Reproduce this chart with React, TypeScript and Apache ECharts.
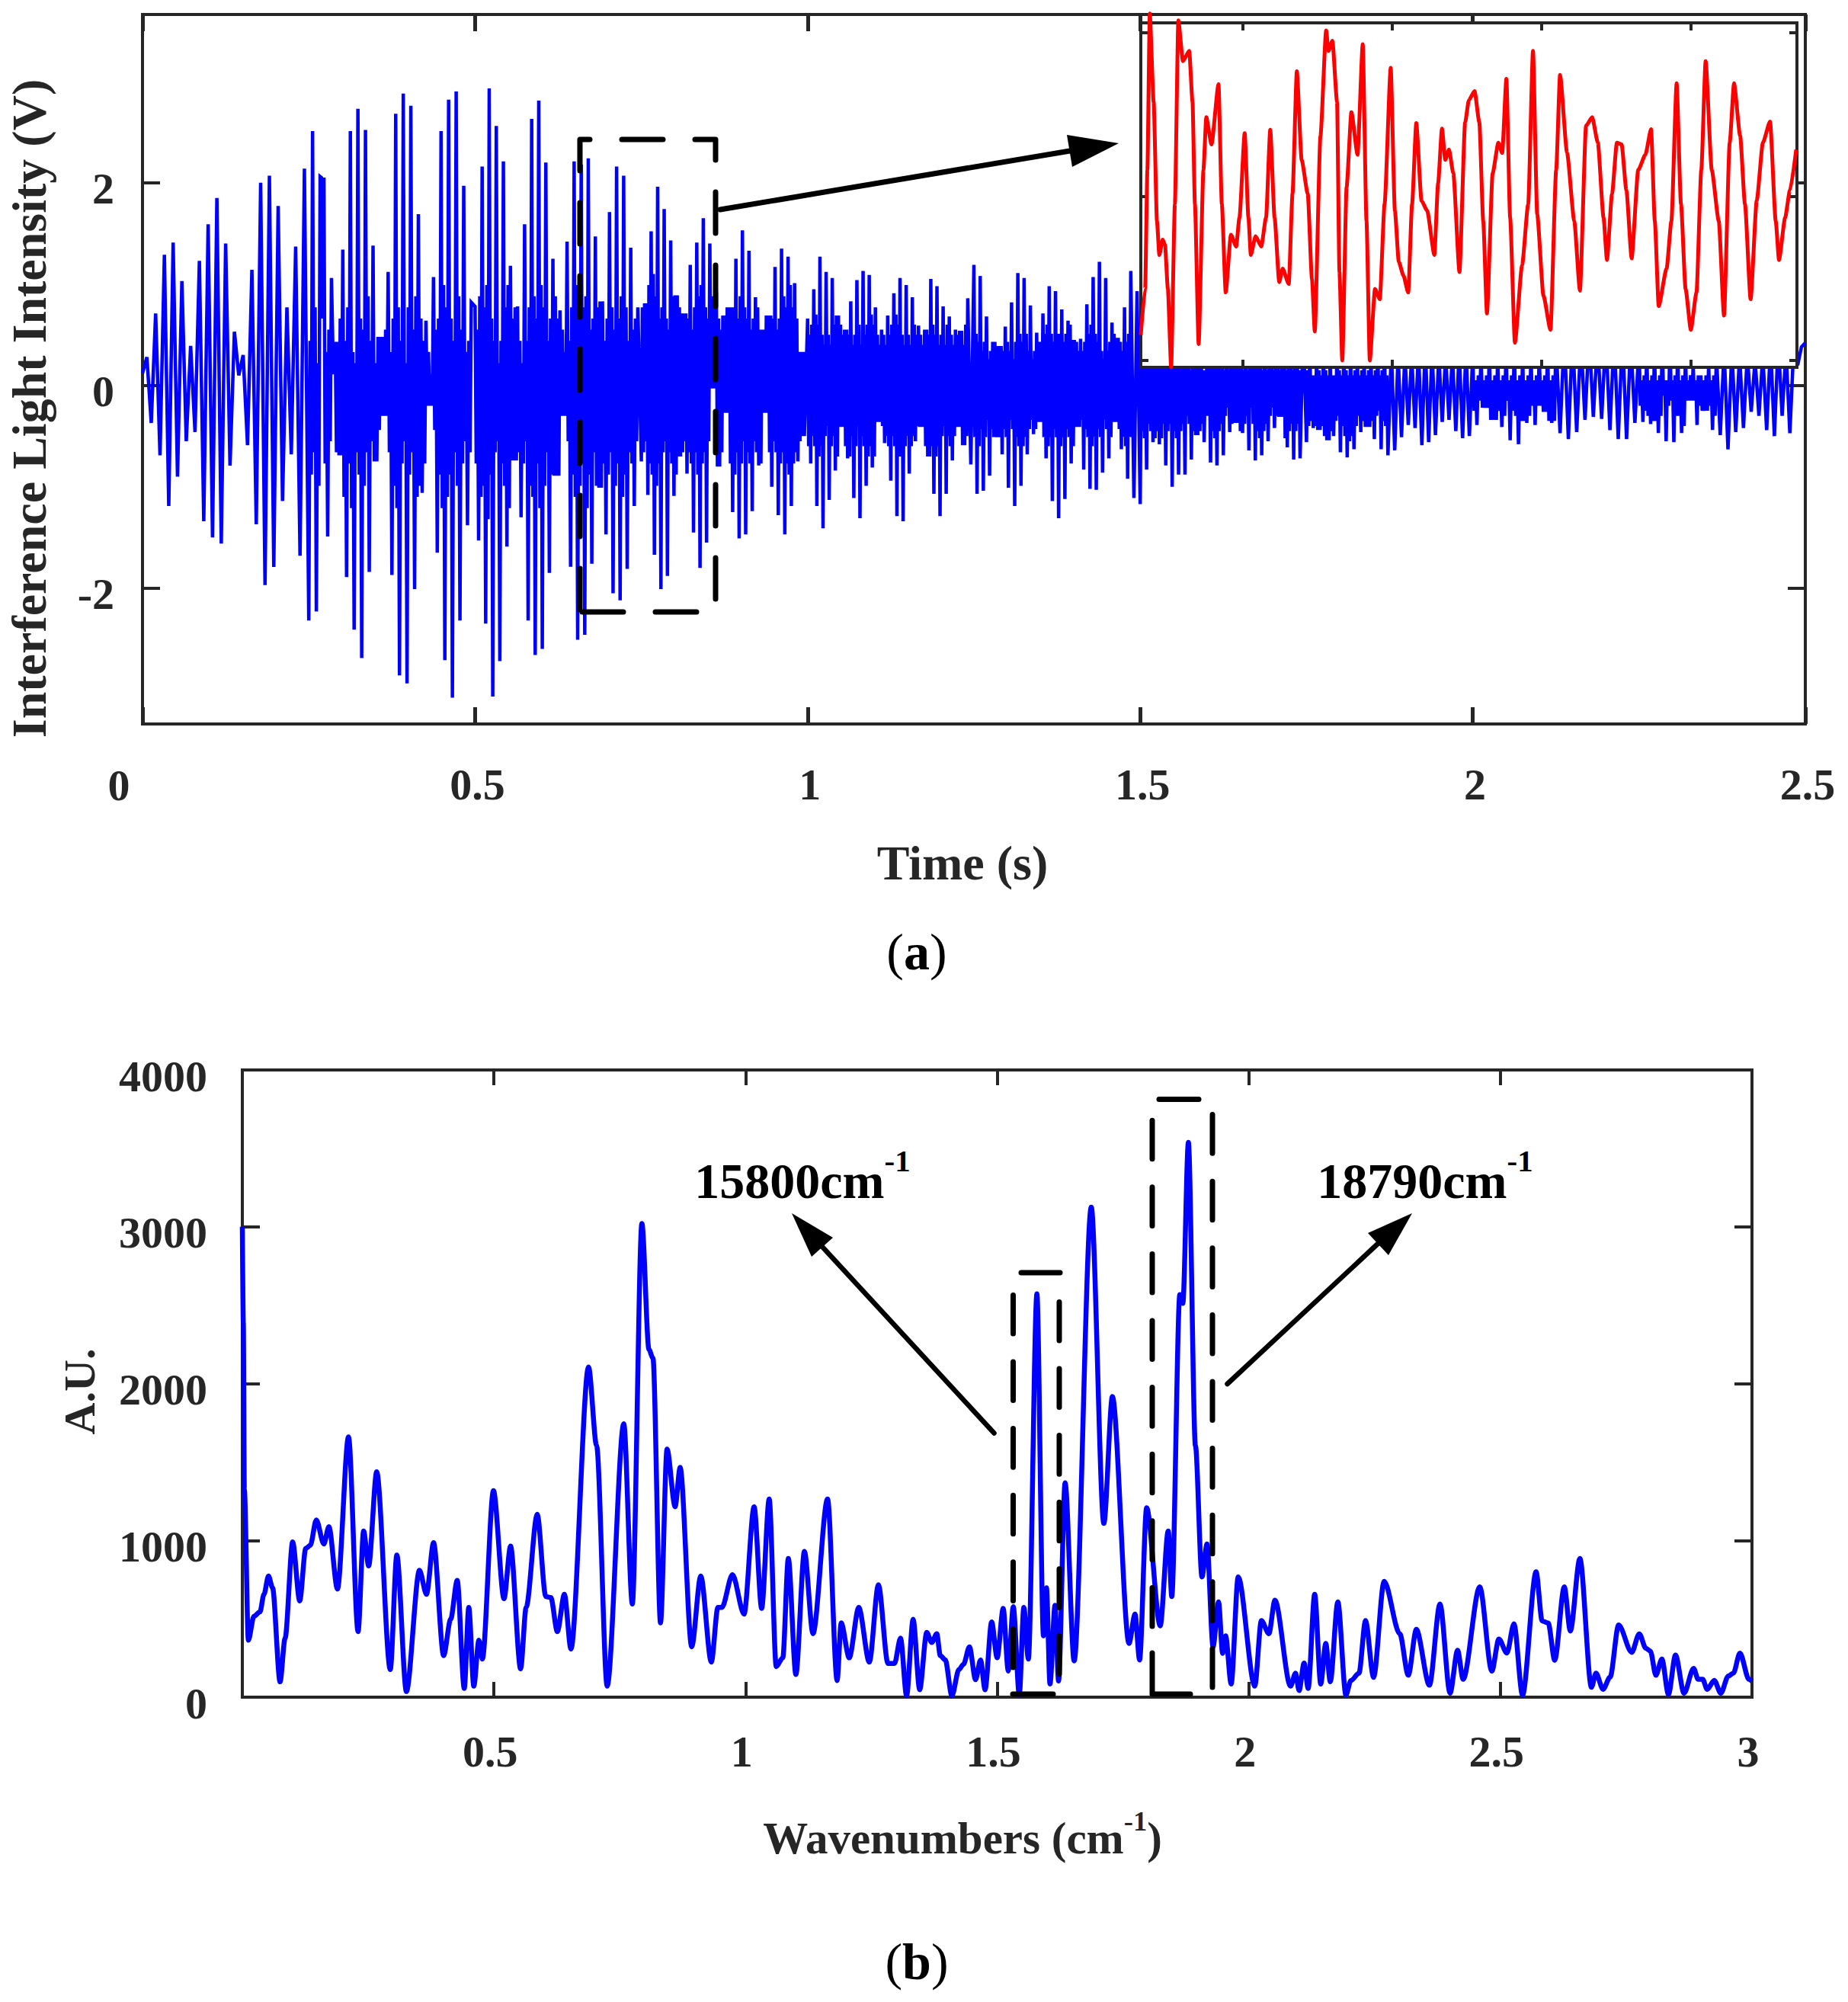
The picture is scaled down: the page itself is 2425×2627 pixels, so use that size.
import React, { useEffect, useRef } from "react";
import * as echarts from "echarts";

// (a) interference signal, one list per 0.25 s window
const windowSpan = 0.25;
const voltageW0 = [0.12, 0.28, -0.37, 0.71, -0.69, 1.29, -1.19, 1.41, -0.9, 1.03, -0.55, 0.39, -0.46, 1.23, -1.34, 1.59, -1.5, 1.85, -1.56, 1.4, -0.79, 0.53, 0.1, 0.3, -0.59, 1.14, -1.37, 2.0, -1.97, 2.07, -1.79, 1.77, -1.14, 0.77, -0.68, 1.37, -1.68, 2.14];
const voltageW1 = [-2.32, 2.51, -2.23, 2.06, 2.05, -1.49, 1.06, 0.43, -0.69, 1.34, -1.89, 2.51, -2.41, 2.73, -2.69, 2.52, -1.84, 1.38, -0.75, 0.48, -0.3, 1.12, -1.87, 2.68, -2.86, 2.88, -2.94, 2.76, -2.01, 1.69, -1.06, 0.64, -0.2, 1.07, -1.65, 2.51, -2.71, 2.82, -3.08, 2.9, -2.32, 1.97, -1.38, 0.82];
const voltageW2 = [0.78, -1.53, 2.16, -2.35, 2.93, -3.07, 2.56, -2.72, 2.21, -1.59, 1.18, -0.74, 0.78, -1.3, 1.59, -2.32, 2.63, -2.66, 2.81, -2.6, 2.2, -1.85, 1.25, -0.89, 0.74, -0.3, 1.42, -1.79, 2.21, -2.51, 2.18, -2.46, 2.24, -1.76, 1.47, -1.01, 0.83, -1.47, 1.71, -2.05, 2.16, -2.12, 2.07, -1.81, 1.36, -1.19, 0.77];
const voltageW3 = [-0.75, 0.81, -1.08, 1.52, -1.67, 1.96, -2.01, 1.74, -1.88, 1.43, -1.09, 0.89, -0.7, 0.71, -0.87, 1.19, -1.45, 1.41, -1.8, 1.65, -1.55, 1.4, -0.03, 0.93, -0.8, 0.69, -0.27, 0.77, -1.25, 1.25, -1.51, 1.53, -1.47, 1.33, -1.24, 0.87, -0.79, 0.55, -0.27, 0.69, -1, 1.17, -1.28, 1.35, -1.47, 1.27, -1.19, 1.01, -0.75, 0.33, -0.5];
const voltageW4 = [0.66, -0.77, 0.95, -1.19, 1.27, -1.41, 1.12, -1.13, 1.06, -0.84, 0.69, -0.41, 0.55, -0.72, 0.83, -1.11, 1.04, -1.31, 1.13, -0.99, 1.09, -0.81, 0.77, -0.36, 0.55, -0.57, 0.69, -0.94, 0.91, -1.29, 1.06, -1.34, 0.99, -0.87, 0.87, -0.55, 0.59, -0.41, 0.55, -0.7, 1.05, -1.07, 0.98, -1.29, 0.78, -1.07, 0.68, -0.74, 0.55, -0.41, 0.54, -0.59, 0.86, -0.78];
const voltageW5 = [1.19, -1.07, 1.08, -1.04, 0.68, -0.89, 0.43, -0.51, 0.39, -0.68, 0.58, -1.01, 0.82, -1.19, 1.11, -0.99, 1.06, -0.68, 0.79, -0.48, 0.52, -0.36, 0.71, -0.72, 0.98, -1.14, 0.93, -1.31, 0.75, -1.12, 0.64, -0.77, 0.45, -0.41, 0.46, -0.83, 0.8, -1.02, 1.07, -1.03, 1.22, -0.86, 1.06, -0.72, 0.62, -0.36, 0.47, -0.63, 0.77, -0.92, 1.13, -1.11, 0.93];
const voltageW6 = [-1.17, 0.9, -0.83, 0.8, -0.56, 0.7, -0.58, 0.85, -0.79, 0.9, -1, 0.95, -0.88, 0.8, -0.88, 0.7, -0.73, 0.65, -0.49, 0.6, -0.56, 0.75, -0.76, 0.9, -0.79, 0.8, -0.69, 0.7, -0.46, 0.6, -0.37, 0.6, -0.47, 0.7, -0.64, 0.8, -0.74, 0.85, -0.69, 0.7, -0.55, 0.6, -0.42, 0.6, -0.31, 0.7, -0.61, 0.8, -0.73, 0.7, -0.72, 0.6];
const voltageW7 = [-0.56, 0.4, -0.42, 0.35, -0.44, 0.4, -0.54, 0.35, -0.5, 0.45, -0.66, 0.4, -0.71, 0.4, -0.63, 0.3, -0.46, 0.3, -0.41, 0.35, -0.53, 0.4, -0.63, 0.4, -0.69, 0.35, -0.64, 0.3, -0.51, 0.3, -0.39, 0.3, -0.42, 0.35, -0.59, 0.4, -0.56, 0.35, -0.49, 0.3, -0.36, 0.3, -0.34, 0.3, -0.45, 0.35, -0.52, 0.35, -0.5];
const voltageW8 = [0.3, -0.39, 0.3, -0.22, 0.35, -0.34, 0.3, -0.41, 0.35, -0.54, 0.4, -0.58, 0.3, -0.37, 0.3, -0.39, 0.3, -0.26, 0.4, -0.37, 0.45, -0.47, 0.5, -0.53, 0.5, -0.46, 0.45, -0.34, 0.5, -0.31, 0.45, -0.33, 0.5, -0.44, 0.5, -0.53, 0.5, -0.53, 0.45, -0.37];
const voltageW9 = [0.4, -0.36, 0.35, -0.38, 0.4, -0.47, 0.45, -0.55, 0.45, -0.56, 0.4, -0.47, 0.3, -0.15, 0.2, -0.39, 0.1, -0.25, 0.2, -0.44, 0.3, -0.49, 0.35, -0.63, 0.35, -0.46, 0.3, -0.42, 0.3, -0.26, 0.25, -0.3, 0.3, -0.44, 0.4, -0.5, 0.45, -0.3, 0.35, -0.47, 0.38, 0.2, 0.38];
const lastVoltage = 0.42;

// smaller spikes inside each swing (low, high pairs), estimated from the dense part of the trace
const rippleW1 = [-0.88, 0.44, -0.66, 0.77, -0.99, 0.22, -0.44, 0.66, -0.77, 0.33, -0.55, 0.55, -0.88, 0.11, -0.66, 0.44, -0.99, 0.66, -1.1, 0.44, -0.77, 0.77, -1.21, 0.33, -0.66, 0.22, -0.88, 0.66, -0.99, 0.55, -0.66, 0.88, -0.55, 0.44, -0.77, 0.22, -0.44, 0.66, -0.88, 0.77, -1.1, 0.55, -0.66, 0.33, -0.99, 0.66, -1.21, 0.77, -0.77, 0.44, -0.55, 0.22, -0.88, 0.77, -0.66, 0.55, -1.1, 0.88, -0.99, 0.66, -0.77, 0.44, -0.55, 0.33, -0.66, 0.11, -0.44, 0.55, -0.88, 0.66, -1.21, 0.99, -1.1, 0.77, -0.88, 0.66, -0.66, 0.44, -0.99, 0.88, -0.77, 0.55, -0.55, 0.33, -0.66, 0.44];
const rippleW2 = [-0.77, 0.55, -1.1, 0.88, -0.99, 0.77, -1.32, 0.99, -0.88, 0.66, -0.66, 0.44, -0.55, 0.22, -0.77, 0.44, -0.99, 0.77, -1.21, 0.99, -1.1, 0.66, -0.88, 0.77, -0.66, 0.44, -0.77, 0.22, -0.55, 0.44, -0.99, 0.77, -1.1, 0.88, -0.77, 0.66, -1.21, 0.99, -0.99, 0.77, -0.66, 0.44, -0.88, 0.66, -1.1, 0.88, -0.99, 0.66, -0.66, 0.55, -0.77, 0.33, -0.55, 0.44, -0.88, 0.77, -1.1, 0.99, -0.99, 0.66, -0.77, 0.77, -1.21, 0.88, -0.88, 0.55, -0.66, 0.66, -0.99, 0.77, -1.1, 0.88, -0.77, 0.44, -0.88, 0.66, -0.66, 0.77, -0.99, 0.55, -0.77, 0.66, -1.1, 0.88, -0.88, 0.77, -0.66, 0.44, -0.77, 0.55, -0.55, 0.66];
const rippleW3 = [-0.66, 0.77, -0.55, 0.88, -0.77, 0.99, -0.88, 1.1, -0.99, 0.88, -0.77, 0.66, -0.66, 0.77, -0.55, 0.66, -0.66, 0.55, -0.77, 0.88, -0.88, 0.99, -0.77, 0.77, -0.66, 0.88, -0.55, 0.77, -0.66, 0.66, -0.77, 0.55, -0.66, 0.77, -0.88, 0.88, -0.77, 0.99, -0.66, 0.77, -0.55, 0.66, -0.66, 0.88, -0.77, 0.77, -0.88, 0.66, -0.66, 0.55, -0.55, 0.77, -0.66, 0.88, -0.77, 0.99, -0.88, 0.77, -0.66, 0.66, -0.77, 0.88, -0.55, 0.77, -0.66, 0.66, -0.77, 0.55, -0.55, 0.66, -0.66, 0.77, -0.77, 0.88, -0.88, 0.99, -0.77, 0.88, -0.66, 0.77, -0.55, 0.66, -0.66, 0.55, -0.77, 0.66, -0.66, 0.88, -0.77, 0.77, -0.88, 0.99, -0.77, 0.77, -0.66, 0.66, -0.55, 0.77, -0.66, 0.55];
const rippleW4 = [-0.6, 0.5, -0.5, 0.6, -0.6, 0.7, -0.7, 0.6, -0.6, 0.5, -0.5, 0.4, -0.4, 0.5, -0.6, 0.4, -0.5, 0.6, -0.7, 0.7, -0.6, 0.6, -0.5, 0.5, -0.6, 0.6, -0.7, 0.5, -0.5, 0.4, -0.6, 0.5, -0.4, 0.6, -0.5, 0.4, -0.6, 0.5, -0.7, 0.6, -0.6, 0.7, -0.7, 0.6, -0.6, 0.5, -0.5, 0.4, -0.4, 0.5, -0.5, 0.4, -0.6, 0.5, -0.5, 0.6, -0.6, 0.7, -0.7, 0.6, -0.7, 0.5, -0.6, 0.4, -0.5, 0.5, -0.6, 0.4, -0.5, 0.6, -0.4, 0.5, -0.6, 0.5, -0.5, 0.4, -0.6, 0.6, -0.7, 0.5, -0.6, 0.6, -0.7, 0.5, -0.6, 0.4, -0.5, 0.5, -0.4, 0.4, -0.5, 0.6, -0.6, 0.5, -0.5, 0.4, -0.6, 0.5, -0.5, 0.6, -0.6, 0.4, -0.5, 0.6];
const rippleW5 = [-0.51, 0.51, -0.6, 0.43, -0.43, 0.34, -0.51, 0.43, -0.34, 0.26, -0.43, 0.34, -0.51, 0.43, -0.6, 0.51, -0.51, 0.51, -0.43, 0.34, -0.51, 0.43, -0.34, 0.34, -0.43, 0.26, -0.51, 0.43, -0.6, 0.51, -0.6, 0.43, -0.51, 0.51, -0.43, 0.34, -0.34, 0.26, -0.43, 0.34, -0.51, 0.43, -0.6, 0.43, -0.51, 0.51, -0.6, 0.6, -0.51, 0.51, -0.43, 0.43, -0.51, 0.51, -0.6, 0.51, -0.51, 0.43, -0.43, 0.51, -0.51, 0.6, -0.6, 0.51, -0.51, 0.43, -0.43, 0.34, -0.34, 0.34, -0.43, 0.43, -0.51, 0.51, -0.6, 0.6, -0.51, 0.51, -0.43, 0.43, -0.51, 0.34, -0.34, 0.26, -0.43, 0.34, -0.51, 0.43, -0.6, 0.51, -0.51, 0.51, -0.43, 0.43, -0.51, 0.34, -0.6, 0.43, -0.51, 0.51];
const rippleW6 = [-0.45, 0.3, -0.52, 0.22, -0.38, 0.3, -0.45, 0.22, -0.52, 0.3, -0.45, 0.38, -0.52, 0.3, -0.38, 0.22, -0.45, 0.3, -0.38, 0.22, -0.45, 0.3, -0.52, 0.38, -0.45, 0.3, -0.38, 0.22, -0.3, 0.22, -0.38, 0.15, -0.45, 0.3, -0.52, 0.3, -0.45, 0.22, -0.38, 0.15, -0.3, 0.15, -0.3, 0.22, -0.45, 0.3, -0.52, 0.3, -0.45, 0.22, -0.38, 0.22, -0.3, 0.15, -0.22, 0.15, -0.38, 0.22, -0.45, 0.3, -0.52, 0.22, -0.45, 0.22, -0.38, 0.15, -0.3, 0.15, -0.22, 0.22, -0.38, 0.3, -0.45, 0.22, -0.52, 0.22, -0.45, 0.15, -0.38, 0.15, -0.3, 0.22, -0.22, 0.15, -0.3, 0.22, -0.45, 0.15, -0.38, 0.22, -0.52, 0.15, -0.45, 0.22, -0.38, 0.15, -0.45, 0.22, -0.38, 0.15];
const rippleW7 = [-0.4, 0.15, -0.35, 0.1, -0.4, 0.1, -0.45, 0.15, -0.4, 0.1, -0.5, 0.15, -0.55, 0.1, -0.45, 0.1, -0.35, 0.1, -0.3, 0.15, -0.4, 0.1, -0.5, 0.15, -0.55, 0.1, -0.5, 0.1, -0.4, 0.15, -0.3, 0.1, -0.35, 0.15, -0.45, 0.1, -0.45, 0.15, -0.35, 0.1, -0.3, 0.15, -0.25, 0.1, -0.35, 0.15, -0.4, 0.1];
const rippleW8 = [-0.25, 0.05, -0.15, 0.1, -0.25, 0.05, -0.3, 0.1, -0.35, 0.05, -0.4, 0.1, -0.25, 0.05, -0.3, 0.1, -0.15, 0.05, -0.25, 0.1, -0.3, 0.05, -0.35, 0.1, -0.35, 0.05, -0.3, 0.1, -0.2, 0.05, -0.2, 0.1, -0.2, 0.05, -0.3, 0.1, -0.35, 0.05, -0.35, 0.1];
const rippleW9 = [-0.2, 0.05, -0.25, 0.1, -0.3, 0.05, -0.35, 0.1, -0.35, 0.05, -0.3, 0.1, -0.1, 0.05, -0.2, 0.05, -0.15, 0.05, -0.3, 0.1, -0.3, 0.05, -0.4, 0.1, -0.3, 0.05, -0.25, 0.1, -0.15, 0.05, -0.2, 0.1, -0.3, 0.05, -0.3, 0.1, -0.2, 0.05, -0.3, 0.1];

// (a) inset, red trace
const insetTime = [0, 0.029, 0.044, 0.06, 0.086, 0.108, 0.124, 0.146, 0.162, 0.181, 0.203, 0.228, 0.251, 0.282, 0.324, 0.346, 0.362, 0.387, 0.419, 0.438, 0.473, 0.52, 0.542, 0.568, 0.603, 0.638, 0.66, 0.695, 0.72, 0.736, 0.768, 0.806, 0.838, 0.866, 0.895, 0.926, 0.949, 0.99, 1.015, 1.044, 1.076, 1.117, 1.145, 1.164, 1.202, 1.24, 1.256, 1.282, 1.313, 1.329, 1.348, 1.377, 1.409, 1.45, 1.485, 1.51, 1.532, 1.567, 1.599, 1.631, 1.672, 1.7, 1.726, 1.757, 1.789, 1.815, 1.843, 1.878, 1.916, 1.964, 1.989, 2.015, 2.037, 2.062, 2.091, 2.132, 2.17, 2.195, 2.233, 2.265, 2.291, 2.316, 2.354, 2.392, 2.418, 2.446, 2.471, 2.503, 2.551, 2.592, 2.624, 2.652, 2.694, 2.741, 2.779, 2.805, 2.852, 2.9, 2.938, 2.979, 3.02, 3.058, 3.096, 3.119, 3.153, 3.185, 3.217, 3.249, 3.284, 3.328, 3.376, 3.414, 3.439, 3.465, 3.518, 3.55, 3.585, 3.614, 3.645, 3.68, 3.718, 3.75, 3.779, 3.82, 3.867, 3.902, 3.94, 3.969, 4.01, 4.042, 4.08, 4.121, 4.162, 4.21, 4.248, 4.27, 4.311, 4.343, 4.385];
const insetVoltage = [-0.847, -0.567, 0.16, 1.115, 0.575, -0.152, -0.359, -0.266, -0.297, -0.567, -1.044, -0.048, 1.073, 0.824, 0.887, 0.575, -0.048, -0.903, 0.16, 0.482, 0.316, 0.683, -0.048, -0.588, -0.235, -0.307, -0.131, 0.384, -0.131, -0.359, -0.245, -0.307, -0.131, 0.405, -0.131, -0.525, -0.442, -0.536, 0.015, 0.762, 0.222, 0.015, -0.505, -0.826, 0.368, 1.011, 0.887, 0.949, 0.575, -0.463, -1.003, 0.056, 0.513, 0.253, 0.928, -0.152, -1.003, -0.567, -0.629, -0.048, 0.783, -0.089, -0.401, -0.484, -0.588, -0.048, 0.446, -0.027, -0.089, -0.359, 0.077, 0.413, 0.222, 0.284, 0.139, -0.463, 0.451, 0.586, 0.642, 0.451, -0.152, -0.716, 0.139, 0.326, 0.264, 0.716, -0.131, -0.895, -0.422, -0.048, 0.887, -0.11, -0.608, -0.816, 0.16, 0.741, 0.264, -0.152, -0.577, 0.43, 0.482, 0.326, -0.131, -0.39, 0.015, 0.326, 0.316, 0.035, -0.38, 0.16, 0.253, 0.409, -0.152, -0.671, -0.442, -0.152, 0.689, -0.048, -0.567, -0.816, -0.588, 0.16, 0.824, 0.16, -0.152, -0.729, 0.326, 0.689, 0.368, -0.048, -0.629, -0.027, 0.326, 0.455, -0.152, -0.39, -0.131, 0.035, 0.284];

// (b) spectrum
const wavenumber = [0, 0.002, 0.004, 0.012, 0.023, 0.035, 0.043, 0.052, 0.06, 0.075, 0.085, 0.1, 0.114, 0.126, 0.135, 0.147, 0.162, 0.172, 0.189, 0.211, 0.23, 0.241, 0.251, 0.267, 0.294, 0.307, 0.326, 0.352, 0.366, 0.38, 0.4, 0.414, 0.427, 0.441, 0.45, 0.46, 0.47, 0.477, 0.499, 0.52, 0.533, 0.553, 0.564, 0.586, 0.603, 0.613, 0.626, 0.64, 0.653, 0.688, 0.704, 0.725, 0.758, 0.775, 0.794, 0.808, 0.816, 0.831, 0.844, 0.86, 0.87, 0.893, 0.911, 0.932, 0.945, 0.953, 0.974, 0.997, 1.017, 1.032, 1.047, 1.061, 1.074, 1.085, 1.1, 1.117, 1.134, 1.163, 1.182, 1.19, 1.206, 1.225, 1.246, 1.264, 1.283, 1.296, 1.308, 1.32, 1.333, 1.346, 1.36, 1.37, 1.38, 1.387, 1.397, 1.41, 1.424, 1.433, 1.445, 1.457, 1.467, 1.476, 1.489, 1.5, 1.512, 1.522, 1.532, 1.544, 1.553, 1.562, 1.579, 1.592, 1.598, 1.605, 1.615, 1.622, 1.635, 1.653, 1.687, 1.712, 1.729, 1.762, 1.774, 1.783, 1.797, 1.824, 1.84, 1.847, 1.863, 1.869, 1.88, 1.894, 1.907, 1.917, 1.929, 1.94, 1.948, 1.954, 1.965, 1.979, 2.012, 2.025, 2.04, 2.052, 2.083, 2.093, 2.1, 2.11, 2.118, 2.131, 2.143, 2.153, 2.162, 2.177, 2.193, 2.203, 2.219, 2.232, 2.248, 2.269, 2.3, 2.317, 2.333, 2.359, 2.38, 2.4, 2.415, 2.426, 2.459, 2.483, 2.497, 2.513, 2.527, 2.544, 2.571, 2.583, 2.595, 2.608, 2.627, 2.639, 2.658, 2.681, 2.69, 2.704, 2.718, 2.735, 2.761, 2.776, 2.789, 2.798, 2.809, 2.821, 2.834, 2.848, 2.865, 2.884, 2.893, 2.902, 2.911, 2.925, 2.938, 2.953, 2.963, 2.976, 2.994, 3];
const amplitude = [3000, 2385, 1325, 363, 516, 544, 656, 773, 698, 98, 377, 990, 614, 949, 968, 1130, 977, 1088, 689, 1660, 418, 1060, 837, 1437, 176, 907, 36, 809, 656, 985, 265, 497, 745, 56, 572, 70, 363, 243, 1317, 628, 963, 181, 572, 1166, 642, 636, 418, 656, 307, 2106, 1604, 70, 1744, 594, 3021, 2218, 2162, 474, 1582, 1214, 1465, 321, 773, 223, 572, 572, 781, 530, 1214, 566, 1264, 195, 251, 884, 145, 929, 405, 1264, 106, 474, 251, 572, 223, 717, 215, 215, 377, 8, 497, 47, 413, 349, 405, 265, 237, 8, 176, 209, 321, 112, 237, 47, 480, 251, 566, 167, 577, 14, 572, 243, 2572, 391, 698, 84, 586, 103, 1367, 231, 3125, 1108, 1917, 343, 530, 237, 1208, 455, 1060, 642, 2567, 2511, 3538, 1604, 767, 977, 321, 608, 279, 391, 84, 767, 70, 488, 405, 619, 70, 153, 42, 218, 56, 656, 84, 343, 98, 608, 14, 106, 153, 488, 126, 739, 405, 140, 432, 76, 594, 25, 299, 114, 704, 166, 371, 281, 468, 12, 799, 486, 473, 235, 704, 422, 884, 63, 153, 50, 127, 460, 286, 404, 312, 294, 140, 243, 17, 268, 25, 184, 114, 114, 50, 107, 25, 135, 153, 281, 114, 102];

// tick labels
const timeTicks = [0, 0.5, 1, 1.5, 2, 2.5];
const timeLabels = [0.5, 1, 1.5, 2, 2.5];
const voltTicks = [-2, 0, 2];
const waveTicks = [0, 0.5, 1, 1.5, 2, 2.5, 3];
const waveLabels = [0.5, 1, 1.5, 2, 2.5, 3];
const ampTicks = [0, 1000, 2000, 3000, 4000];
const insetTimeTicks = [0.68, 1.68, 2.68, 3.68];
const insetVoltTicks = [-1, 0, 1];

const FONT = "Liberation Serif";
const INK = "#262626";
const BLACK = "#000";

const zip = (xs: number[], ys: number[]) => xs.map((x, i) => [x, ys[i]]);

const App: React.FC = () => {
  const chartRef = useRef<HTMLDivElement>(null);

  useEffect(() => {
    if (!chartRef.current) return;
    const chart = echarts.init(chartRef.current, undefined, { renderer: "svg" });

    const windows = [voltageW0, voltageW1, voltageW2, voltageW3, voltageW4, voltageW5, voltageW6, voltageW7, voltageW8, voltageW9];
    const ripples = [[], rippleW1, rippleW2, rippleW3, rippleW4, rippleW5, rippleW6, rippleW7, rippleW8, rippleW9];

    // main peaks stay on their own time slots, the small spikes sit between them
    const signal: number[][] = [];
    windows.forEach((w, k) => {
      const band: number[] = ripples[k];
      w.forEach((v, i) => {
        const t = (f: number) => (k + (i + f) / w.length) * windowSpan;
        signal.push([t(0), v]);
        if (2 * i + 1 < band.length && i + 1 < w.length) {
          const next = w[i + 1];
          const low = Math.max(band[2 * i], Math.min(v, next));
          const high = Math.min(band[2 * i + 1], Math.max(v, next));
          signal.push([t(1 / 3), next < v ? low : high]);
          signal.push([t(2 / 3), next < v ? high : low]);
        }
      });
    });
    signal.push([2.5, lastVoltage]);

    const axisText = {
      fontFamily: FONT,
      fontWeight: "bold" as const,
      fontSize: 58,
      color: INK,
      formatter: (v: number) => String(v),
    };

    const xAxisFor = (
      gridIndex: number,
      min: number,
      max: number,
      ticks: number[],
      labels: number[],
      position: string,
      len: number,
      width: number,
      margin: number,
      labelPadding: number[] = [0, 0, 0, 0],
      z = 1
    ) => ({
      type: "value",
      gridIndex,
      min,
      max,
      position,
      z,
      splitLine: { show: false },
      axisLine: { show: false, onZero: false },
      axisTick: {
        show: true,
        inside: true,
        length: len,
        customValues: ticks,
        lineStyle: { color: INK, width },
      },
      axisLabel: labels.length
        ? { show: true, margin, customValues: labels, padding: labelPadding, ...axisText }
        : { show: false },
    });

    const yAxisFor = (
      gridIndex: number,
      min: number,
      max: number,
      ticks: number[],
      labels: number[],
      position: string,
      len: number,
      width: number,
      margin: number,
      z = 1
    ) => ({
      type: "value",
      gridIndex,
      min,
      max,
      position,
      z,
      splitLine: { show: false },
      axisLine: { show: false, onZero: false },
      axisTick: {
        show: true,
        inside: true,
        length: len,
        customValues: ticks,
        lineStyle: { color: INK, width },
      },
      axisLabel: labels.length
        ? {
            show: true,
            margin,
            customValues: labels,
            verticalAlign: "top",
            lineHeight: 16,
            ...axisText,
          }
        : { show: false },
    });

    const title = (text: string, x: number, y: number, size: number, rotation = 0, fill = INK) => ({
      type: "text",
      x,
      y,
      rotation,
      z: 20,
      style: {
        text,
        fontFamily: FONT,
        fontWeight: "bold",
        fontSize: size,
        fill,
        align: "center",
        verticalAlign: "middle",
      },
    });

    // label with a superscript, as used on the spectrum
    const supLabel = (text: string, sup: string, tail: string, x: number, y: number, size: number, fill: string) => ({
      type: "text",
      x,
      y,
      z: 20,
      style: {
        text: `{m|${text}}{s|${sup}}{m|${tail}}`,
        fill,
        align: "center",
        verticalAlign: "middle",
        rich: {
          m: { fontFamily: FONT, fontWeight: "bold", fontSize: size, fill, lineHeight: size * 1.4 },
          s: {
            fontFamily: FONT,
            fontWeight: "bold",
            fontSize: size * 0.62,
            fill,
            lineHeight: size * 1.4,
            verticalAlign: "top",
            padding: [0, 0, size * 0.42, 0],
          },
        },
      },
    });

    // (a) / (b): plain parens round a bold letter
    const panelTag = (letter: string, x: number, y: number) => ({
      type: "text",
      x,
      y,
      z: 20,
      style: {
        text: `{p|(}{b|${letter}}{p|)}`,
        align: "center",
        verticalAlign: "middle",
        rich: {
          p: { fontFamily: FONT, fontSize: 68, fill: BLACK },
          b: { fontFamily: FONT, fontSize: 68, fontWeight: "bold", fill: BLACK },
        },
      },
    });

    const dash = (points: number[][], pattern: number[]) => ({
      type: "polyline",
      z: 15,
      shape: { points },
      style: { stroke: BLACK, fill: "none", lineWidth: 7, lineCap: "round", lineJoin: "round", lineDash: pattern },
    });

    const solid = (points: number[][], lineWidth = 7) => ({
      type: "polyline",
      z: 15,
      shape: { points },
      style: { stroke: BLACK, fill: "none", lineWidth, lineCap: "round", lineJoin: "round" },
    });

    const head = (points: number[][]) => ({
      type: "polygon",
      z: 15,
      shape: { points },
      style: { fill: BLACK },
    });

    const frame = { show: true, borderColor: INK, borderWidth: 4, backgroundColor: "transparent" };
    const dashA = [54, 42];
    const dashB = [50.6, 37];

    const option: any = {
      animation: false,
      backgroundColor: "#fff",
      grid: [
        { left: 187, top: 19, width: 2182, height: 931, ...frame },
        { left: 318, top: 1404, width: 1981, height: 823, ...frame },
        { left: 1497, top: 30, width: 861, height: 452, ...frame, backgroundColor: "#fff", z: 10 },
      ],
      xAxis: [
        xAxisFor(0, 0, 2.5, timeTicks, timeLabels, "bottom", 22, 5, 50, [0, 0, 0, 6]),
        xAxisFor(0, 0, 2.5, timeTicks, [], "top", 22, 5, 0),
        xAxisFor(1, 0, 3, waveTicks, waveLabels, "bottom", 20, 4, 42, [0, 10, 0, 0]),
        xAxisFor(1, 0, 3, waveTicks, [], "top", 20, 4, 0),
        xAxisFor(2, 0, 4.39, insetTimeTicks, [], "bottom", 10, 4, 0, undefined, 11),
        xAxisFor(2, 0, 4.39, insetTimeTicks, [], "top", 10, 4, 0, undefined, 11),
      ],
      yAxis: [
        yAxisFor(0, -3.34, 3.66, voltTicks, voltTicks, "left", 23, 4, 37),
        yAxisFor(0, -3.34, 3.66, voltTicks, [], "right", 23, 4, 0),
        yAxisFor(1, 0, 4000, ampTicks, ampTicks, "left", 23, 4, 46),
        yAxisFor(1, 0, 4000, ampTicks, [], "right", 23, 4, 0),
        yAxisFor(2, -1.045, 1.058, insetVoltTicks, [], "left", 10, 4, 0, 11),
        yAxisFor(2, -1.045, 1.058, insetVoltTicks, [], "right", 10, 4, 0, 11),
      ],
      series: [
        {
          type: "line",
          name: "Interference signal",
          xAxisIndex: 0,
          yAxisIndex: 0,
          data: signal,
          showSymbol: false,
          lineStyle: { color: "#0000ff", width: 4.5, join: "miter" },
          z: 2,
        },
        {
          type: "line",
          name: "Spectrum",
          xAxisIndex: 2,
          yAxisIndex: 2,
          data: zip(wavenumber, amplitude),
          showSymbol: false,
          clip: false,
          smooth: 0.3,
          smoothMonotone: "x",
          lineStyle: { color: "#0000ff", width: 6.5 },
          z: 2,
        },
        {
          type: "line",
          name: "Inset",
          xAxisIndex: 4,
          yAxisIndex: 4,
          data: zip(insetTime, insetVoltage),
          showSymbol: false,
          clip: false,
          smooth: 0.2,
          smoothMonotone: "x",
          lineStyle: { color: "#ff0000", width: 5 },
          z: 12,
        },
      ],
      graphic: [
        title("Interference Light Intensity (V)", 38, 536, 64, Math.PI / 2),
        title("0", 156, 1030, 58),
        title("Time (s)", 1263, 1132, 64),
        panelTag("a", 1203, 1249),
        title("A.U.", 104, 1826, 58, Math.PI / 2),
        supLabel("Wavenumbers (cm", "-1", ")", 1263, 2412, 59, INK),
        panelTag("b", 1203, 2574),
        supLabel("15800cm", "-1", "", 1053, 1549, 66, BLACK),
        supLabel("18790cm", "-1", "", 1870, 1549, 66, BLACK),

        // (a) dashed window and arrow into the inset
        dash([[816, 183], [939, 183], [939, 803], [761, 803]], dashA),
        dash([[761, 800], [761, 183], [775, 183]], dashA),
        solid([[945, 275], [1404, 198]], 7),
        head([[1468, 188], [1400, 177], [1407, 219]]),

        // (b) dashed windows round the two peaks
        dash([[1329.5, 2188], [1329.5, 1696]], dashB),
        dash([[1390, 2197], [1390, 1700]], dashB),
        solid([[1340, 1670], [1391, 1670]]),
        solid([[1329, 2223], [1382, 2223]]),
        dash([[1512, 2134], [1512, 1468]], dashB),
        dash([[1591, 2214], [1591, 1460]], dashB),
        solid([[1512, 2169], [1512, 2223], [1562, 2223]]),
        solid([[1521, 1442.5], [1573, 1442.5]]),

        // (b) arrows to the labels
        solid([[1304.5, 1880.5], [1079, 1636]], 6.5),
        head([[1039, 1592], [1065, 1649], [1093, 1624]]),
        solid([[1610.5, 1816], [1808, 1632]], 6.5),
        head([[1853, 1592], [1795, 1618], [1822, 1647]]),
      ],
    };

    chart.setOption(option);

    return () => {
      chart.dispose();
    };
  }, []);

  return (
    <div
      ref={chartRef}
      style={{ position: "absolute", left: 0, top: 0, width: 2425, height: 2627, background: "#fff" }}
    />
  );
};

export default App;
